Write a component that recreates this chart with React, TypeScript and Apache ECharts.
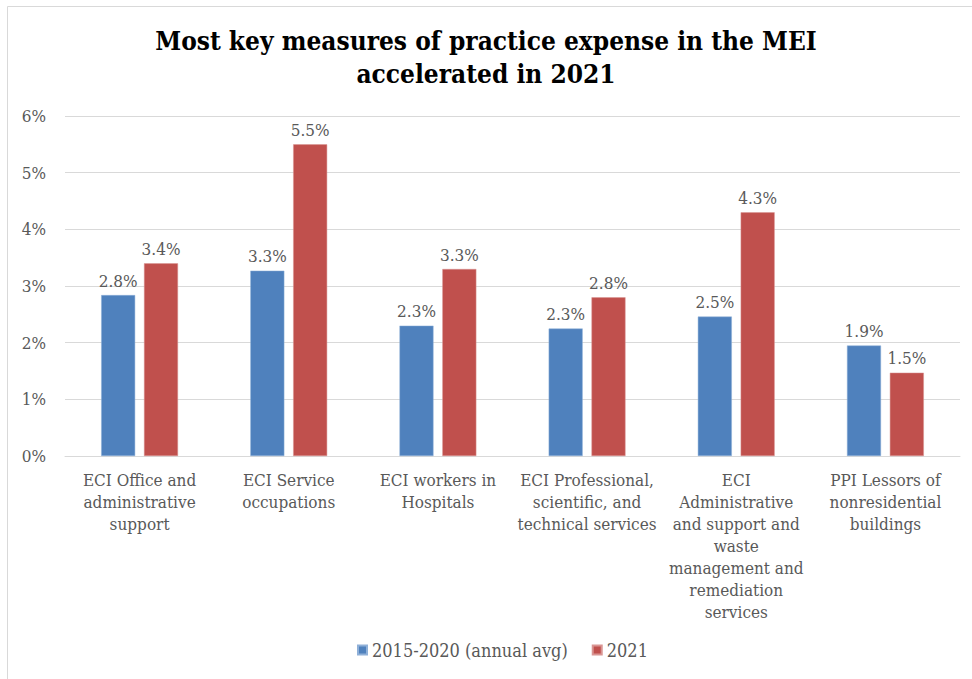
import React, { useEffect, useRef } from "react";
import * as echarts from "echarts";

const categories = [
  "ECI Office and\nadministrative\nsupport",
  "ECI Service\noccupations",
  "ECI workers in\nHospitals",
  "ECI Professional,\nscientific, and\ntechnical services",
  "ECI\nAdministrative\nand support and\nwaste\nmanagement and\nremediation\nservices",
  "PPI Lessors of\nnonresidential\nbuildings",
];
const seriesNames = ["2015-2020 (annual avg)", "2021"];
const avg2015to2020 = [2.84, 3.27, 2.3, 2.25, 2.46, 1.95];
const values2021 = [3.4, 5.5, 3.3, 2.8, 4.3, 1.47];
const titleLines = ["Most key measures of practice expense in the MEI", "accelerated in 2021"];

const FONT = "'DejaVu Serif Condensed', 'DejaVu Serif', 'Liberation Serif', serif";

export default function App() {
  const ref = useRef<HTMLDivElement>(null);
  useEffect(() => {
    document.body.style.margin = "0";
    const chart = echarts.init(ref.current!, null, { renderer: "svg" });
    const label = {
      show: true,
      position: "top",
      distance: 6,
      color: "#595959",
      fontFamily: FONT,
      fontSize: 17,
      formatter: (p: any) => p.value.toFixed(1) + "%",
    };
    chart.setOption({
      animation: false,
      backgroundColor: "#ffffff",
      textStyle: { fontFamily: FONT },
      title: {
        text: titleLines.join("\n"),
        left: "center",
        top: 19,
        textStyle: {
          fontFamily: FONT,
          fontWeight: "bold",
          fontSize: 26,
          lineHeight: 33,
          color: "#000000",
        },
      },
      graphic: [
        {
          type: "rect",
          shape: { x: 7.5, y: 6.5, width: 1000, height: 700 },
          style: { fill: "none", stroke: "#d9d9d9", lineWidth: 1 },
          silent: true,
        },
      ],
      legend: {
        bottom: 15,
        left: 352,
        itemWidth: 9,
        itemHeight: 9,
        itemGap: 24,
        icon: "rect",
        textStyle: { fontFamily: FONT, fontSize: 18, color: "#595959" },
        data: seriesNames,
      },
      grid: { left: 65, right: 12, top: 116, bottom: 223, containLabel: false },
      xAxis: {
        type: "category",
        data: categories,
        axisLine: { lineStyle: { color: "#d9d9d9", width: 1 } },
        axisTick: { show: false },
        axisLabel: {
          interval: 0,
          margin: 13,
          color: "#595959",
          fontFamily: FONT,
          fontSize: 17,
          lineHeight: 22,
          align: "center",
        },
      },
      yAxis: {
        type: "value",
        min: 0,
        max: 6,
        interval: 1,
        axisLine: { show: false },
        axisTick: { show: false },
        splitLine: { lineStyle: { color: "#d9d9d9", width: 1 } },
        axisLabel: {
          formatter: (v: number) => v + "%",
          color: "#595959",
          fontFamily: FONT,
          fontSize: 17,
          margin: 19,
        },
      },
      series: [
        {
          name: seriesNames[0],
          type: "bar",
          data: avg2015to2020,
          barWidth: 34,
          barGap: "26%",
          itemStyle: { color: "#4F81BD", borderColor: "#8fb0d8", borderWidth: 0.5 },
          label,
        },
        {
          name: seriesNames[1],
          type: "bar",
          data: values2021,
          barWidth: 34,
          barGap: "26%",
          itemStyle: { color: "#C0504D", borderColor: "#d99593", borderWidth: 0.5 },
          label,
        },
      ],
    });
    return () => chart.dispose();
  }, []);
  return (
    <div
      ref={ref}
      style={{ position: "absolute", left: 0, top: 0, width: 972, height: 679 }}
    />
  );
}
